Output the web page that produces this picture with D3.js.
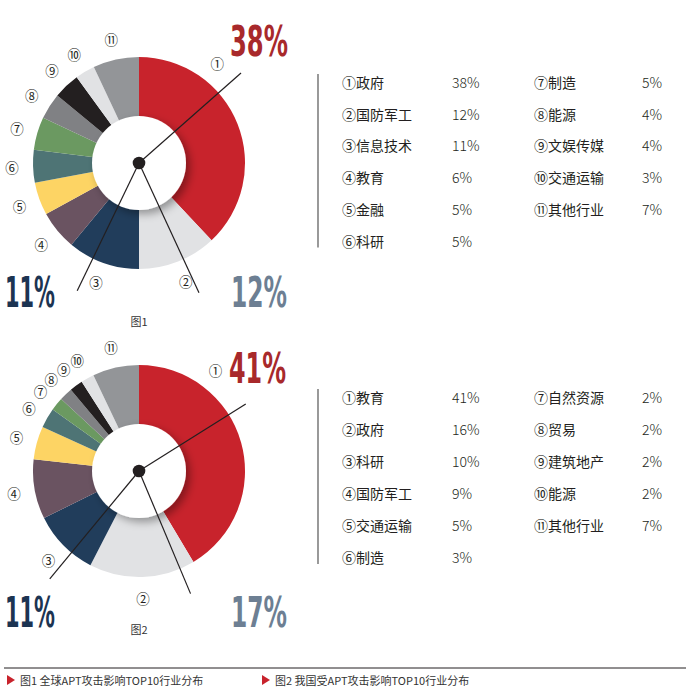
<!DOCTYPE html>
<html>
<head>
<meta charset="utf-8">
<script src="https://cdn.jsdelivr.net/npm/d3@7"></script>
<style>
  body { margin: 0; background: #fff; }
  svg { display: block; }
</style>
</head>
<body>
<svg id="chart" width="690" height="697"></svg>
<script>
// data
const circled = ['①', '②', '③', '④', '⑤', '⑥', '⑦', '⑧', '⑨', '⑩', '⑪']
const sliceColors = ['#c8232c', '#e1e2e4', '#213d5b', '#6a5361', '#fdd464', '#4e7475',
  '#6b9961', '#808184', '#231f20', '#e1e2e4', '#939598']

const fig1Labels = ['政府', '国防军工', '信息技术', '教育', '金融', '科研', '制造', '能源', '文娱传媒', '交通运输', '其他行业']
const fig1Values = [38, 12, 11, 6, 5, 5, 5, 4, 4, 3, 7]
const fig1Callouts = ['38%', '12%', '11%']

const fig2Labels = ['教育', '政府', '科研', '国防军工', '交通运输', '制造', '自然资源', '贸易', '建筑地产', '能源', '其他行业']
const fig2Values = [41, 16, 10, 9, 5, 3, 2, 2, 2, 2, 7]
const fig2Callouts = ['41%', '17%', '11%']

const captions = ['图1', '图2']
const footerTitles = ['图1 全球APT攻击影响TOP10行业分布', '图2 我国受APT攻击影响TOP10行业分布']

const cjk = "'Noto Sans CJK SC', 'Noto Sans', sans-serif"
const bigFont = "'Liberation Sans Narrow', 'DejaVu Sans Condensed', sans-serif"

const svg = d3.select('#chart')
svg.append('rect').attr('width', 690).attr('height', 697).attr('fill', '#fff')

const defs = svg.append('defs')
const shadow = defs.append('filter').attr('id', 'innerShadow')
  .attr('x', '-30%').attr('y', '-30%').attr('width', '160%').attr('height', '160%')
shadow.append('feDropShadow')
  .attr('dx', 4).attr('dy', 4).attr('stdDeviation', 4)
  .attr('flood-color', '#000').attr('flood-opacity', 0.35)

function drawFigure(opt) {
  const g = svg.append('g').attr('transform', `translate(${opt.cx}, ${opt.cy})`)
  const outerR = 106
  const innerR = 47

  const pie = d3.pie().sort(null).value((d) => d)
  const arcs = pie(opt.values)
  const arc = d3.arc().innerRadius(innerR - 2).outerRadius(outerR)
  const labelArc = d3.arc().innerRadius(127).outerRadius(127)

  g.selectAll('path.slice')
    .data(arcs)
    .enter()
    .append('path')
    .attr('class', 'slice')
    .attr('d', arc)
    .attr('fill', (d, i) => sliceColors[i])

  g.append('circle')
    .attr('r', innerR)
    .attr('fill', '#fff')
    .attr('filter', 'url(#innerShadow)')

  // slice numbers round the ring
  g.selectAll('text.num')
    .data(arcs)
    .enter()
    .append('text')
    .attr('class', 'num')
    .attr('transform', (d, i) => {
      let p = labelArc.centroid(d)
      if (i === 0) {
        const a = opt.firstLabelAngle * Math.PI / 180
        p = [127 * Math.sin(a), -127 * Math.cos(a)]
      }
      return `translate(${p[0]}, ${p[1]})`
    })
    .attr('text-anchor', 'middle')
    .attr('dominant-baseline', 'central')
    .attr('font-family', cjk)
    .attr('font-size', 13.5)
    .attr('fill', '#231f20')
    .text((d, i) => circled[i])

  // pointer lines from the centre
  g.selectAll('line.pointer')
    .data(opt.pointers)
    .enter()
    .append('line')
    .attr('class', 'pointer')
    .attr('x1', 0).attr('y1', 0)
    .attr('x2', (p) => p[1] * Math.sin(p[0] * Math.PI / 180))
    .attr('y2', (p) => -p[1] * Math.cos(p[0] * Math.PI / 180))
    .attr('stroke', '#231f20')
    .attr('stroke-width', 1.2)

  g.append('circle').attr('r', 6.3).attr('fill', '#231f20')

  // big callout numbers
  const calloutColors = ['#a8292b', '#6d7f93', '#1c3452']
  const calloutPos = opt.calloutPos
  svg.selectAll(null)
    .data(opt.callouts)
    .enter()
    .append('text')
    .attr('x', (d, i) => calloutPos[i][0])
    .attr('y', (d, i) => calloutPos[i][1])
    .attr('font-family', bigFont)
    .attr('font-weight', 'bold')
    .attr('font-size', 42)
    .attr('textLength', (d, i) => calloutPos[i][2])
    .attr('lengthAdjust', 'spacingAndGlyphs')
    .attr('fill', (d, i) => calloutColors[i])
    .text((d) => d)

  svg.append('text')
    .attr('x', opt.cx)
    .attr('y', opt.captionY)
    .attr('text-anchor', 'middle')
    .attr('font-family', cjk)
    .attr('font-size', 11)
    .attr('fill', '#333')
    .text(opt.caption)

  // legend
  const leg = svg.append('g')
  leg.append('line')
    .attr('x1', 318).attr('x2', 318)
    .attr('y1', opt.legendTop - 8).attr('y2', opt.legendTop + 5 * opt.rowH + 7)
    .attr('stroke', '#808080').attr('stroke-width', 1.6)

  const items = opt.labels.map((l, i) => ({label: circled[i] + l, value: opt.values[i] + '%', i: i}))
  const rows = leg.selectAll('g.item')
    .data(items)
    .enter()
    .append('g')
    .attr('class', 'item')
    .attr('transform', (d) => {
      const col = d.i < 6 ? 0 : 1
      const row = d.i < 6 ? d.i : d.i - 6
      return `translate(${col === 0 ? 342 : 534}, ${opt.legendTop + row * opt.rowH})`
    })
  rows.append('text')
    .attr('dominant-baseline', 'central')
    .attr('font-family', cjk)
    .attr('font-size', 14)
    .attr('fill', '#231f20')
    .text((d) => d.label)
  rows.append('text')
    .attr('x', (d) => d.i < 6 ? 110 : 108)
    .attr('dominant-baseline', 'central')
    .attr('font-family', cjk)
    .attr('font-size', 14)
    .attr('font-weight', 300)
    .attr('fill', '#231f20')
    .text((d) => d.value)
}

drawFigure({
  cx: 139, cy: 163,
  values: fig1Values, labels: fig1Labels, callouts: fig1Callouts,
  firstLabelAngle: 38,
  pointers: [[48.6, 136], [205.8, 142], [155.2, 143]],
  calloutPos: [[230, 56, 58], [231, 307, 56], [5, 307, 50]],
  caption: captions[0], captionY: 326,
  legendTop: 82, rowH: 31.7
})

drawFigure({
  cx: 139, cy: 471,
  values: fig2Values, labels: fig2Labels, callouts: fig2Callouts,
  firstLabelAngle: 37,
  pointers: [[57.9, 126], [219.6, 140], [157.2, 133]],
  calloutPos: [[229, 383, 57], [231, 627, 56], [5, 627, 50]],
  caption: captions[1], captionY: 634,
  legendTop: 397, rowH: 32
})

// footer
svg.append('line')
  .attr('x1', 4).attr('x2', 686)
  .attr('y1', 668).attr('y2', 668)
  .attr('stroke', '#231f20').attr('stroke-width', 1)

const footer = svg.selectAll('g.footer')
  .data(footerTitles)
  .enter()
  .append('g')
  .attr('class', 'footer')
  .attr('transform', (d, i) => `translate(${i === 0 ? 7 : 262}, 680)`)
footer.append('path')
  .attr('d', 'M0,-5 L8,0 L0,5 Z')
  .attr('fill', '#c8232c')
footer.append('text')
  .attr('x', 13)
  .attr('dominant-baseline', 'central')
  .attr('font-family', cjk)
  .attr('font-size', 11)
  .attr('fill', '#333')
  .text((d) => d)
</script>
</body>
</html>
